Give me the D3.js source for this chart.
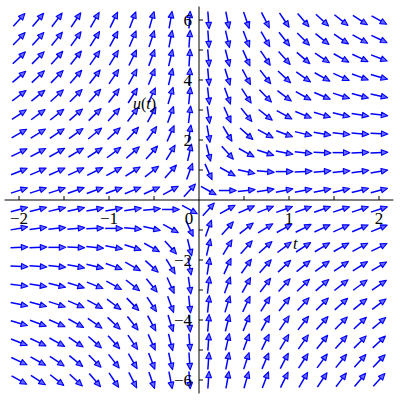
<!DOCTYPE html>
<html>
<head>
<meta charset="utf-8">
<script src="https://cdn.jsdelivr.net/npm/d3@7"></script>
<style>
  body { margin: 0; background: #fff; }
  text { font-family: "Liberation Serif", "DejaVu Serif", serif; fill: #000; }
</style>
</head>
<body>
<svg id="chart" width="400" height="400"></svg>
<script>
// direction field grid: t across (left to right), u down (top to bottom)
var tGrid = [-2.000, -1.789, -1.579, -1.368, -1.158, -0.947, -0.737, -0.526, -0.316, -0.105,
              0.105,  0.316,  0.526,  0.737,  0.947,  1.158,  1.368,  1.579,  1.789,  2.000];
var uGrid = [ 6.000,  5.368,  4.737,  4.105,  3.474,  2.842,  2.211,  1.579,  0.947,  0.316,
             -0.316, -0.947, -1.579, -2.211, -2.842, -3.474, -4.105, -4.737, -5.368, -6.000];

// arrow directions in degrees (0 = pointing right, + = up), one row per u value
var row0  = [ 48,  50,  53,  56,  60,  64,  69,  74,  80,  86, -86, -79, -71, -63, -56, -49, -43, -38, -33, -29];
var row1  = [ 46,  48,  51,  54,  57,  62,  67,  72,  79,  86, -86, -77, -69, -60, -52, -45, -39, -34, -29, -25];
var row2  = [ 43,  45,  48,  51,  55,  59,  64,  70,  77,  86, -85, -76, -66, -56, -48, -41, -34, -29, -25, -21];
var row3  = [ 40,  43,  45,  48,  52,  56,  61,  68,  76,  85, -85, -73, -62, -52, -43, -35, -29, -24, -20, -16];
var row4  = [ 37,  39,  42,  45,  48,  52,  58,  65,  73,  84, -84, -70, -57, -46, -37, -29, -23, -18, -15, -12];
var row5  = [ 34,  36,  38,  41,  44,  48,  53,  61,  70,  83, -82, -66, -51, -38, -29, -22, -17, -13,  -9,  -7];
var row6  = [ 30,  32,  34,  36,  39,  43,  48,  55,  66,  81, -80, -59, -42, -29, -20, -14, -10,  -6,  -4,  -2];
var row7  = [ 26,  28,  29,  31,  33,  37,  41,  48,  59,  77, -76, -48, -29, -18, -11,  -6,  -2,   0,   2,   3];
var row8  = [ 22,  23,  24,  25,  27,  29,  32,  38,  48,  70, -66, -29, -13,  -5,   0,   3,   5,   6,   8,  10];
var row9  = [ 18,  18,  18,  19,  20,  20,  22,  24,  29,  48, -29,   0,   6,   9,  11,  11,  12,  13,  14,  15];
var row10 = [ 15,  14,  13,  12,  11,  11,   9,   6,   0, -29,  48,  29,  24,  22,  20,  20,  19,  18,  18,  18];
var row11 = [ 10,   8,   6,   5,   3,   0,  -5, -13, -29, -66,  70,  48,  38,  32,  29,  27,  25,  24,  23,  22];
var row12 = [  3,   2,   0,  -2,  -6, -11, -18, -29, -48, -76,  77,  59,  48,  41,  37,  33,  31,  29,  28,  26];
var row13 = [ -2,  -4,  -6, -10, -14, -20, -29, -42, -59, -80,  81,  66,  55,  48,  43,  39,  36,  34,  32,  30];
var row14 = [ -7,  -9, -13, -17, -22, -29, -38, -51, -66, -82,  83,  70,  61,  53,  48,  44,  41,  38,  36,  34];
var row15 = [-12, -15, -18, -23, -29, -37, -46, -57, -70, -84,  84,  73,  65,  58,  52,  48,  45,  42,  39,  37];
var row16 = [-16, -20, -24, -29, -35, -43, -52, -62, -73, -85,  85,  76,  68,  61,  56,  52,  48,  45,  43,  40];
var row17 = [-21, -25, -29, -34, -41, -48, -56, -66, -76, -85,  86,  77,  70,  64,  59,  55,  51,  48,  45,  43];
var row18 = [-25, -29, -34, -39, -45, -52, -60, -69, -77, -86,  86,  79,  72,  67,  62,  57,  54,  51,  48,  46];
var row19 = [-29, -33, -38, -43, -49, -56, -63, -71, -79, -86,  86,  80,  74,  69,  64,  60,  56,  53,  50,  48];
var angles = [row0, row1, row2, row3, row4, row5, row6, row7, row8, row9,
              row10, row11, row12, row13, row14, row15, row16, row17, row18, row19];

var xTicks = [-2, -1.5, -1, -0.5, 0.5, 1, 1.5, 2];
var xLabels = [-2, -1, 0, 1, 2];
var yTicks = [-6, -5, -4, -3, -2, -1, 1, 2, 3, 4, 5, 6];
var yLabels = [-6, -4, -2, 2, 4, 6];

var svg = d3.select('#chart');
var x = d3.scaleLinear().domain([-2.2, 2.2]).range([1, 397]);
var y = d3.scaleLinear().domain([-6.6, 6.6]).range([398, 2]);

function fmt(v) { return v < 0 ? '\u2212' + Math.abs(v) : String(v); }

// Arrows
var cells = [];
angles.forEach(function(row, j) {
  row.forEach(function(a, i) {
    cells.push({t: tGrid[i], u: uGrid[j], a: a});
  });
});

var arrows = svg.append('g').attr('class', 'field')
  .selectAll('g').data(cells).enter()
  .append('g')
  .attr('transform', function(d) {
    return 'translate(' + x(d.t) + ',' + y(d.u) + ') rotate(' + (-d.a) + ')';
  });
arrows.append('line')
  .attr('x1', -8.5).attr('y1', 0)
  .attr('x2', 3).attr('y2', 0)
  .attr('stroke', '#0000ff')
  .attr('stroke-width', 1.5);
arrows.append('path')
  .attr('d', 'M8.8,0L2.4,-2.8L2.4,2.8Z')
  .attr('fill', '#6a6aff')
  .attr('stroke', '#0000ff')
  .attr('stroke-width', 1.1)
  .attr('stroke-linejoin', 'round');

// Axes
var axes = svg.append('g').attr('class', 'axes');
axes.append('line')
  .attr('x1', x(-2.16)).attr('x2', x(2.16))
  .attr('y1', y(0)).attr('y2', y(0))
  .attr('stroke', '#000').attr('stroke-width', 1);
axes.append('line')
  .attr('x1', x(0)).attr('x2', x(0))
  .attr('y1', y(6.45)).attr('y2', y(-6.45))
  .attr('stroke', '#000').attr('stroke-width', 1);

axes.selectAll('line.xtick').data(xTicks).enter()
  .append('line').attr('class', 'xtick')
  .attr('x1', function(d) { return x(d); }).attr('x2', function(d) { return x(d); })
  .attr('y1', y(0)).attr('y2', y(0) - 4)
  .attr('stroke', '#000');
axes.selectAll('line.ytick').data(yTicks).enter()
  .append('line').attr('class', 'ytick')
  .attr('x1', x(0)).attr('x2', x(0) + 4)
  .attr('y1', function(d) { return y(d); }).attr('y2', function(d) { return y(d); })
  .attr('stroke', '#000');

axes.selectAll('text.xlab').data(xLabels).enter()
  .append('text').attr('class', 'xlab')
  .attr('x', function(d) { return d === 0 ? x(0) - 10 : x(d); })
  .attr('y', y(0) + 24)
  .attr('text-anchor', 'middle')
  .attr('font-size', 17)
  .text(fmt);
axes.selectAll('text.ylab').data(yLabels).enter()
  .append('text').attr('class', 'ylab')
  .attr('x', x(0) - 7)
  .attr('y', function(d) { return y(d) + 6; })
  .attr('text-anchor', 'end')
  .attr('font-size', 17)
  .text(fmt);

// Axis titles
var ut = svg.append('text').attr('x', 133).attr('y', 109).attr('font-size', 16);
ut.append('tspan').attr('font-style', 'italic').text('u');
ut.append('tspan').text('(');
ut.append('tspan').attr('font-style', 'italic').text('t');
ut.append('tspan').text(')');
svg.append('text').attr('x', 293).attr('y', 249).attr('font-size', 16)
  .attr('font-style', 'italic').text('t');
</script>
</body>
</html>
